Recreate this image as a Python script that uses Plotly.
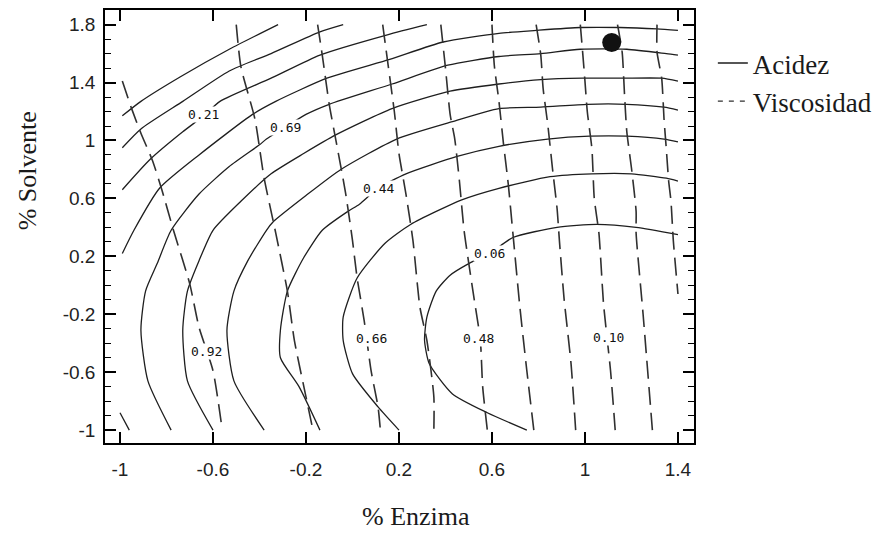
import plotly.graph_objects as go

# ---------------- Acidez contour lines (solid) ----------------
acidez_1_x = [-0.99, -0.91, -0.74, -0.53, -0.32]
acidez_1_y = [1.17, 1.27, 1.44, 1.63, 1.80]

acidez_2_x = [-0.99, -0.91, -0.73, -0.53, -0.35, -0.14, -0.04]
acidez_2_y = [0.95, 1.08, 1.27, 1.48, 1.60, 1.75, 1.80]

acidez_3_x = [-0.99, -0.87, -0.73, -0.64, -0.57, -0.35, -0.14, 0.15, 0.32]
acidez_3_y = [0.66, 0.87, 1.06, 1.17, 1.27, 1.43, 1.59, 1.73, 1.80]

acidez_4_x = [-0.99, -0.94, -0.83, -0.66, -0.43, -0.33, -0.11, 0.16, 0.39, 0.63, 0.79, 0.98, 1.15, 1.31, 1.40]
acidez_4_y = [0.22, 0.38, 0.67, 0.90, 1.18, 1.27, 1.43, 1.56, 1.68, 1.74, 1.76, 1.78, 1.78, 1.77, 1.76]

acidez_4b_x = [-1.00, -0.96]
acidez_4b_y = [-0.88, -1.00]

acidez_5_x = [1.40, 1.35, 1.18, 0.98, 0.81, 0.63, 0.41, 0.17, -0.10, -0.20, -0.29, -0.37, -0.40, -0.53,
              -0.66, -0.78, -0.84, -0.89, -0.91, -0.88, -0.78]
acidez_5_y = [1.59, 1.60, 1.63, 1.63, 1.60, 1.58, 1.52, 1.39, 1.25, 1.18, 1.09, 1.01, 0.97, 0.82,
              0.63, 0.38, 0.15, -0.04, -0.31, -0.66, -1.00]

acidez_6_x = [1.40, 1.33, 1.16, 0.99, 0.81, 0.63, 0.42, 0.17, -0.07, -0.21, -0.35, -0.48, -0.60, -0.66,
              -0.71, -0.73, -0.71, -0.60]
acidez_6_y = [1.41, 1.43, 1.43, 1.43, 1.42, 1.39, 1.34, 1.22, 1.04, 0.91, 0.77, 0.58, 0.38, 0.17,
              -0.04, -0.31, -0.66, -1.00]

acidez_7_x = [1.40, 1.34, 1.18, 1.01, 0.81, 0.63, 0.43, 0.19, -0.05, -0.20, -0.34, -0.37, -0.45, -0.51,
              -0.54, -0.51, -0.38]
acidez_7_y = [1.21, 1.23, 1.25, 1.25, 1.23, 1.22, 1.13, 1.01, 0.80, 0.62, 0.44, 0.38, 0.17, -0.04,
              -0.31, -0.66, -1.00]

acidez_8_x = [1.40, 1.34, 1.18, 1.02, 0.84, 0.63, 0.45, 0.23, 0.11, 0.03, -0.02, -0.13, -0.21, -0.28,
              -0.31, -0.31, -0.23, -0.14]
acidez_8_y = [0.99, 1.01, 1.03, 1.03, 1.01, 0.96, 0.89, 0.77, 0.67, 0.56, 0.51, 0.38, 0.19, -0.04,
              -0.31, -0.50, -0.70, -1.00]

acidez_9_x = [1.40, 1.35, 1.20, 1.03, 0.85, 0.63, 0.47, 0.25, 0.14, 0.02, -0.04, -0.04, 0.00, 0.11, 0.20]
acidez_9_y = [0.72, 0.74, 0.77, 0.77, 0.75, 0.67, 0.59, 0.42, 0.29, 0.05, -0.22, -0.38, -0.61, -0.84, -1.00]

acidez_10_x = [1.40, 1.22, 1.05, 0.88, 0.69, 0.59, 0.50, 0.42, 0.36, 0.32, 0.31, 0.33, 0.43, 0.58, 0.75]
acidez_10_y = [0.35, 0.40, 0.42, 0.40, 0.33, 0.22, 0.15, 0.07, -0.04, -0.22, -0.38, -0.54, -0.75, -0.88, -1.00]

# ---------------- Viscosidad contour lines (dashed) ----------------
visc_1_x = [-0.99, -0.95, -0.91, -0.86, -0.82, -0.77, -0.70, -0.66, -0.60, -0.56]
visc_1_y = [1.41, 1.22, 1.05, 0.86, 0.66, 0.38, 0.01, -0.29, -0.59, -1.00]

visc_2_x = [-0.50, -0.48, -0.42, -0.38, -0.33, -0.28, -0.25, -0.20, -0.17]
visc_2_y = [1.80, 1.51, 1.15, 0.74, 0.36, -0.04, -0.38, -0.77, -1.00]

visc_3_x = [-0.15, -0.13, -0.10, -0.07, -0.03, 0.00, 0.02, 0.05, 0.08, 0.11, 0.12]
visc_3_y = [1.80, 1.59, 1.25, 0.99, 0.64, 0.31, 0.05, -0.24, -0.59, -0.84, -1.00]

visc_4_x = [0.13, 0.15, 0.18, 0.20, 0.23, 0.26, 0.29, 0.32, 0.35, 0.35]
visc_4_y = [1.80, 1.56, 1.20, 0.91, 0.63, 0.31, -0.15, -0.38, -0.77, -1.00]

visc_5_x = [0.38, 0.40, 0.42, 0.44, 0.46, 0.48, 0.52, 0.55, 0.56, 0.58]
visc_5_y = [1.80, 1.50, 1.18, 1.01, 0.72, 0.38, -0.06, -0.38, -0.70, -1.00]

visc_6_x = [0.60, 0.61, 0.63, 0.65, 0.67, 0.69, 0.72, 0.75, 0.78]
visc_6_y = [1.80, 1.52, 1.27, 0.97, 0.70, 0.36, -0.15, -0.59, -1.00]

visc_7_x = [0.79, 0.81, 0.82, 0.84, 0.86, 0.88, 0.89, 0.91, 0.94, 0.96]
visc_7_y = [1.80, 1.59, 1.36, 1.11, 0.81, 0.53, 0.31, -0.09, -0.54, -1.00]

visc_8_x = [0.98, 0.99, 1.00, 1.01, 1.03, 1.04, 1.06, 1.08, 1.11, 1.13]
visc_8_y = [1.80, 1.61, 1.41, 1.20, 0.94, 0.60, 0.36, -0.13, -0.59, -1.00]

visc_9_x = [1.14, 1.16, 1.17, 1.18, 1.20, 1.22, 1.22, 1.25, 1.29]
visc_9_y = [1.80, 1.61, 1.32, 1.06, 0.81, 0.51, 0.36, -0.20, -1.00]

visc_10_x = [1.31, 1.31, 1.33, 1.34, 1.35, 1.36, 1.37, 1.38, 1.40]
visc_10_y = [1.80, 1.61, 1.43, 1.15, 0.94, 0.72, 0.58, 0.31, -0.06]

# ---------------- contour labels ----------------
label_text = ["0.21", "0.69", "0.44", "0.06", "0.92", "0.66", "0.48", "0.10"]
label_x = [-0.64, -0.29, 0.11, 0.59, -0.63, 0.08, 0.54, 1.10]
label_y = [1.18, 1.09, 0.67, 0.22, -0.46, -0.37, -0.37, -0.36]

# ---------------- optimum point ----------------
opt_x = [1.115]
opt_y = [1.676]

# ---------------- axes ----------------
x_tickvals = [-1, -0.6, -0.2, 0.2, 0.6, 1, 1.4]
x_ticktext = ["-1", "-0.6", "-0.2", "0.2", "0.6", "1", "1.4"]
y_tickvals = [-1, -0.6, -0.2, 0.2, 0.6, 1, 1.4, 1.8]
y_ticktext = ["-1", "-0.6", "-0.2", "0.2", "0.6", "1", "1.4", "1.8"]

series_names = ["Acidez", "Viscosidad"]
x_title = "% Enzima"
y_title = "% Solvente"

acidez_lines = [
    (acidez_1_x, acidez_1_y), (acidez_2_x, acidez_2_y), (acidez_3_x, acidez_3_y),
    (acidez_4_x, acidez_4_y), (acidez_4b_x, acidez_4b_y), (acidez_5_x, acidez_5_y),
    (acidez_6_x, acidez_6_y), (acidez_7_x, acidez_7_y), (acidez_8_x, acidez_8_y),
    (acidez_9_x, acidez_9_y), (acidez_10_x, acidez_10_y),
]
visc_lines = [
    (visc_1_x, visc_1_y), (visc_2_x, visc_2_y), (visc_3_x, visc_3_y), (visc_4_x, visc_4_y),
    (visc_5_x, visc_5_y), (visc_6_x, visc_6_y), (visc_7_x, visc_7_y), (visc_8_x, visc_8_y),
    (visc_9_x, visc_9_y), (visc_10_x, visc_10_y),
]

fig = go.Figure()

for xs, ys in acidez_lines:
    fig.add_trace(go.Scatter(x=xs, y=ys, mode="lines", showlegend=False, hoverinfo="skip",
                             line=dict(color="#1e1e1e", width=1.3, shape="spline", smoothing=0.6)))

for xs, ys in visc_lines:
    fig.add_trace(go.Scatter(x=xs, y=ys, mode="lines", showlegend=False, hoverinfo="skip",
                             line=dict(color="#303030", width=1.6, dash="18px,8px",
                                       shape="spline", smoothing=0.6)))

fig.add_trace(go.Scatter(x=opt_x, y=opt_y, mode="markers", showlegend=False,
                         marker=dict(color="#111111", size=19, symbol="circle")))

# legend entries
fig.add_trace(go.Scatter(x=[None], y=[None], mode="lines", name=series_names[0],
                         line=dict(color="#1e1e1e", width=1.6)))
fig.add_trace(go.Scatter(x=[None], y=[None], mode="lines", name=series_names[1],
                         line=dict(color="#303030", width=1.4, dash="5px,6px")))

for t, lx, ly in zip(label_text, label_x, label_y):
    fig.add_annotation(x=lx, y=ly, xref="x", yref="y", text=t, showarrow=False,
                       font=dict(family="DejaVu Sans Mono", size=13, color="#111111"),
                       bgcolor="white", borderpad=0)

fig.add_annotation(x=0.528, y=-0.17, xref="paper", yref="paper", text=x_title, showarrow=False,
                   font=dict(family="Liberation Serif", size=26, color="#1a1a1a"),
                   xanchor="center", yanchor="middle")
fig.add_annotation(x=-0.132, y=0.628, xref="paper", yref="paper", text=y_title, showarrow=False,
                   textangle=-90,
                   font=dict(family="Liberation Serif", size=26, color="#1a1a1a"),
                   xanchor="center", yanchor="middle")

axis_common = dict(showline=True, linecolor="black", linewidth=1.6, mirror="ticks",
                   ticks="inside", ticklen=11, tickwidth=1.5, tickcolor="black",
                   showgrid=False, zeroline=False,
                   tickfont=dict(family="Liberation Sans", size=19, color="#222222"))

fig.update_xaxes(range=[-1.0645, 1.469], tickmode="array", tickvals=x_tickvals,
                 ticktext=x_ticktext, ticklabelstandoff=8, **axis_common)
fig.update_yaxes(range=[-1.089, 1.901], tickmode="array", tickvals=y_tickvals,
                 ticktext=y_ticktext, ticklabelstandoff=4,
                 minor=dict(dtick=0.1, tick0=0, ticks="inside", ticklen=6, tickwidth=1.3,
                            tickcolor="black", showgrid=False),
                 **axis_common)

# the page adds an 8px body margin, so the figure is 8px smaller and shifted
fig.update_layout(
    width=876, height=525, autosize=False,
    margin=dict(l=97, r=190, t=0, b=90),
    plot_bgcolor="white", paper_bgcolor="white",
    legend=dict(x=1.032, y=0.933, xanchor="left", yanchor="top",
                font=dict(family="Liberation Serif", size=27, color="#1a1a1a"),
                bgcolor="rgba(0,0,0,0)", itemwidth=30, tracegroupgap=0),
    showlegend=True,
)

fig.write_html("out.html")
